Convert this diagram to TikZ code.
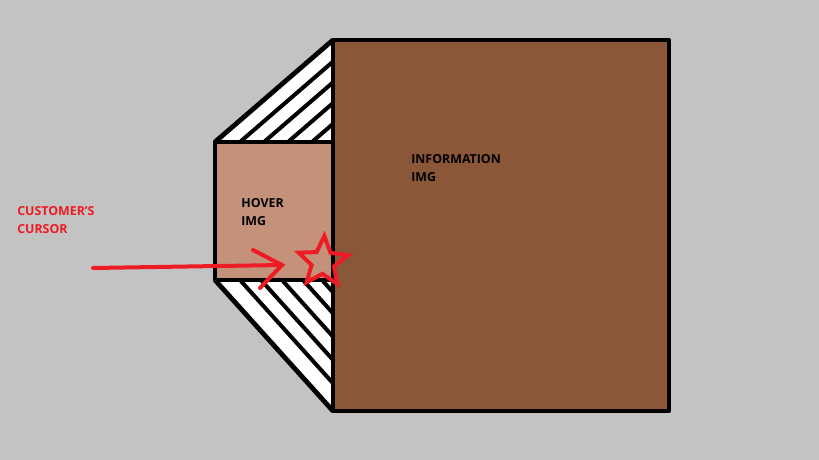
\documentclass[tikz,border=0pt]{standalone}
\usepackage{fontspec}
\setmainfont{Open Sans}
\usetikzlibrary{shapes.geometric}
\definecolor{paintgray}{RGB}{195,195,195}
\definecolor{infobrown}{RGB}{139,87,57}
\definecolor{hoverbrown}{RGB}{196,146,122}
\definecolor{paintred}{RGB}{237,28,36}
\tikzset{
    outline/.style={black,line width=3.6pt,line join=round},
    hatch/.style={black,line width=3pt},
    redpen/.style={paintred,line width=3pt,line cap=round},
    label/.style={font=\fontsize{9.3pt}{13.5pt}\selectfont\bfseries,align=left,anchor=north west,inner sep=0pt}
}
\begin{document}
\begin{tikzpicture}[x=0.75pt,y=-0.75pt]
    \fill[paintgray] (0,0) rectangle (819,460);
    \useasboundingbox (0,0) rectangle (819,460);
    % corner points
    \coordinate (hoverTL) at (215,142);
    \coordinate (hoverBL) at (215,280);
    \coordinate (infoTL) at (333,40);
    \coordinate (infoBR) at (669,411);
    % information image
    \fill[infobrown] (infoTL) rectangle (infoBR);
    % top and bottom wedges
    \fill[white] (hoverTL) -- (infoTL) -- (333,142) -- cycle;
    \fill[white] (hoverBL) -- (333,280) -- (333,411) -- cycle;
    \begin{scope}
        \clip (hoverTL) -- (infoTL) -- (333,142) -- cycle;
        \foreach \x in {240,264,288,312}{
            \draw[hatch] (\x,142) -- ++(118,-102);
        }
    \end{scope}
    \begin{scope}
        \clip (hoverBL) -- (333,280) -- (333,411) -- cycle;
        \foreach \x in {240,261,282,303,322}{
            \draw[hatch] (\x,280) -- ++(118,131);
        }
    \end{scope}
    \draw[outline] (hoverTL) -- (infoTL);
    \draw[outline] (hoverBL) -- (333,411);
    % hover image
    \fill[hoverbrown] (hoverTL) rectangle (333,280);
    \draw[outline] (hoverTL) rectangle (333,280);
    \draw[outline] (infoTL) rectangle (infoBR);
    % texts
    \node[label] (infotext) at (411,154) {INFORMATION\\IMG};
    \node[label] (hovertext) at (241,198) {HOVER\\IMG};
    \node[label,text=paintred] (cursortext) at (17,206) {CUSTOMER'S\\CURSOR};
    % cursor arrow and star
    \coordinate (arrowstart) at (93,268);
    \coordinate (arrowtip) at (282,265);
    \draw[redpen] (arrowstart) -- (arrowtip);
    \draw[redpen] (253,250) -- (arrowtip) -- (260,288);
    \node[star,star points=5,star point ratio=2.2,minimum size=52pt*0.75,inner sep=0pt,
          draw=paintred,line width=3pt,rotate=-3] (cursorstar) at (323,262) {};
\end{tikzpicture}
\end{document}
